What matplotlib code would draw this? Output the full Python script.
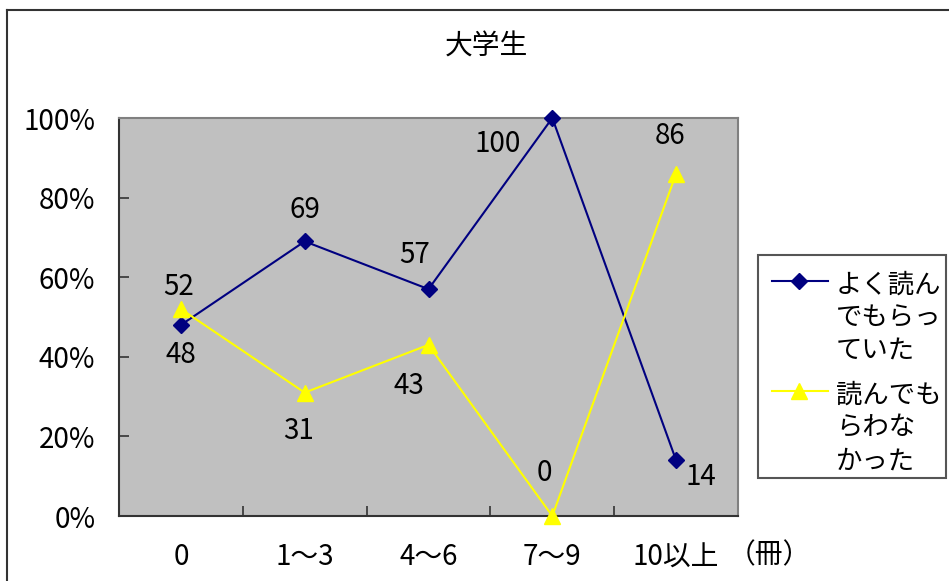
import matplotlib
matplotlib.use('Agg')
import matplotlib.pyplot as plt
from matplotlib.lines import Line2D
from matplotlib.patches import Rectangle

plt.rcParams['font.family'] = ['Noto Sans CJK JP', 'DejaVu Sans']

# 冊数カテゴリ
categories = ['0', '1～3', '4～6', '7～9', '10以上']
read_to = [48, 69, 57, 100, 14]        # よく読んでもらっていた
not_read_to = [52, 31, 43, 0, 86]      # 読んでもらわなかった
series_names = ['よく読ん\nでもらっ\nていた', '読んでも\nらわな\nかった']
y_ticks = [0, 20, 40, 60, 80, 100]

W, H = 949, 581
fig = plt.figure(figsize=(W / 100, H / 100), dpi=100)
fig.patch.set_facecolor('white')


def px(x, y):
    # pixel position (from top-left) -> figure fraction
    return x / W, 1 - y / H


# chart area frame (left and top edges)
fig.add_artist(Line2D([7 / W, 7 / W], [0, 1 - 10 / H], transform=fig.transFigure,
                      color='#333333', lw=1.5))
fig.add_artist(Line2D([7 / W, 1], [1 - 10 / H, 1 - 10 / H], transform=fig.transFigure,
                      color='#333333', lw=1.5))

ax = fig.add_axes([119 / W, (H - 516) / H, 619 / W, 398 / H])
ax.set_facecolor('#C0C0C0')
ax.set_xlim(0, len(categories))
ax.set_ylim(0, 100)

styles = [dict(color='#000080', marker='D', ms=8),
          dict(color='#FFFF00', marker='^', ms=11)]

x = [i + 0.5 for i in range(len(categories))]
ax.plot(x, read_to, lw=1.5, clip_on=False, zorder=3, **styles[0])
ax.plot(x, not_read_to, lw=1.5, clip_on=False, zorder=3, **styles[1])

# data labels
fs = 20
offs_blue = [(0, -30), (0, 31), (-14, 34), (-55, -26), (25, -17)]
offs_yel = [(-2, 22), (-6, -38), (-20, -41), (-8, 43), (-6, 38)]
for xi, v, (dx, dy) in zip(x, read_to, offs_blue):
    ax.annotate(str(v), (xi, v), xytext=(dx, dy), textcoords='offset pixels',
                ha='center', va='center', fontsize=fs)
for xi, v, (dx, dy) in zip(x, not_read_to, offs_yel):
    ax.annotate(str(v), (xi, v), xytext=(dx, dy), textcoords='offset pixels',
                ha='center', va='center', fontsize=fs)

ax.set_yticks(y_ticks)
ax.set_yticklabels([f'{t}%' for t in y_ticks], fontsize=fs)
ax.tick_params(axis='y', direction='in', length=7, width=1.2, color='#333333', pad=17)

ax.set_xticks(range(len(categories) + 1))
ax.set_xticklabels([])
ax.tick_params(axis='x', which='major', direction='in', length=7, width=1.2, color='#333333')
ax.set_xticks(x, minor=True)
ax.set_xticklabels(categories, minor=True, fontsize=fs)
ax.tick_params(axis='x', which='minor', length=0, pad=19)

ax.text(*px(728, 555), '（冊）', transform=fig.transFigure,
        ha='left', va='center', fontsize=fs)

for side in ['left', 'bottom']:
    ax.spines[side].set_color('#333333')
    ax.spines[side].set_linewidth(1.5)
for side in ['top', 'right']:
    ax.spines[side].set_color('#808080')
    ax.spines[side].set_linewidth(1.5)

fig.text(*px(486, 47), '大学生', ha='center', va='center', fontsize=20)

# legend box
x0, y0 = px(758, 478)
x1, y1 = px(946, 255)
fig.add_artist(Rectangle((x0, y0), x1 - x0, y1 - y0, transform=fig.transFigure,
                         facecolor='white', edgecolor='#555555', lw=1.5))
for name, st, yc in zip(series_names, styles, [281, 391]):
    fig.add_artist(Line2D([772 / W, 828 / W], [1 - yc / H] * 2, transform=fig.transFigure,
                          color=st['color'], lw=1.5))
    fig.add_artist(Line2D([799 / W], [1 - yc / H], transform=fig.transFigure,
                          linestyle='none', **st))
    fig.text(*px(836, yc - 9), name, ha='left', va='top', fontsize=19,
             linespacing=1.27)

fig.savefig('out.png', dpi=100)
